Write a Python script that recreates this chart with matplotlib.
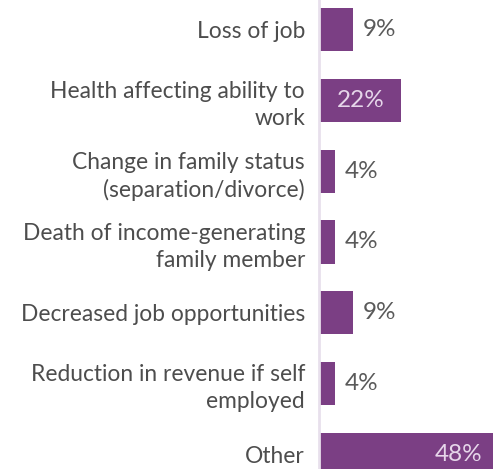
import matplotlib.pyplot as plt
import numpy as np

categories = [
    "Loss of job",
    "Health affecting ability to\nwork",
    "Change in family status\n(separation/divorce)",
    "Death of income-generating\nfamily member",
    "Decreased job opportunities",
    "Reduction in revenue if self\nemployed",
    "Other",
]
values = [9, 22, 4, 4, 9, 4, 48]

BAR = "#7B3F84"
TEXT = "#4D4D4D"
FS = 16.4
FS_VAL = 17.5

plt.rcParams['font.family'] = ['Lato', 'DejaVu Sans']

fig = plt.figure(figsize=(4.93, 4.69), dpi=100)
ax = fig.add_axes([319 / 493, 0, 1 - 319 / 493, 1])

y = np.arange(len(values))
ax.barh(y, values, height=0.61, color=BAR, left=0.3)
ax.set_xlim(0, 47.6)
ax.set_ylim(6.21, -0.42)

for yi, v in zip(y, values):
    if v >= 40:
        ax.text(v - 3.2, yi, f"{v}%", ha="right", va="center", color="#E6D6EA", fontsize=FS_VAL)
    elif v >= 20:
        ax.text(v / 2 + 0.5, yi, f"{v}%", ha="center", va="center", color="#E6D6EA", fontsize=FS_VAL)
    else:
        ax.text(v + 3, yi, f"{v}%", ha="left", va="center", color="#5A5A5A", fontsize=FS_VAL)

ax.set_yticks(y)
ax.set_yticklabels(categories, fontsize=FS, color=TEXT, linespacing=1.33)
ax.tick_params(axis="y", length=0, pad=10)
ax.set_xticks([])
for s in ["top", "right", "bottom"]:
    ax.spines[s].set_visible(False)
ax.spines["left"].set_color("#E8E0EC")
ax.spines["left"].set_linewidth(2)

fig.savefig("out.png", dpi=100)
